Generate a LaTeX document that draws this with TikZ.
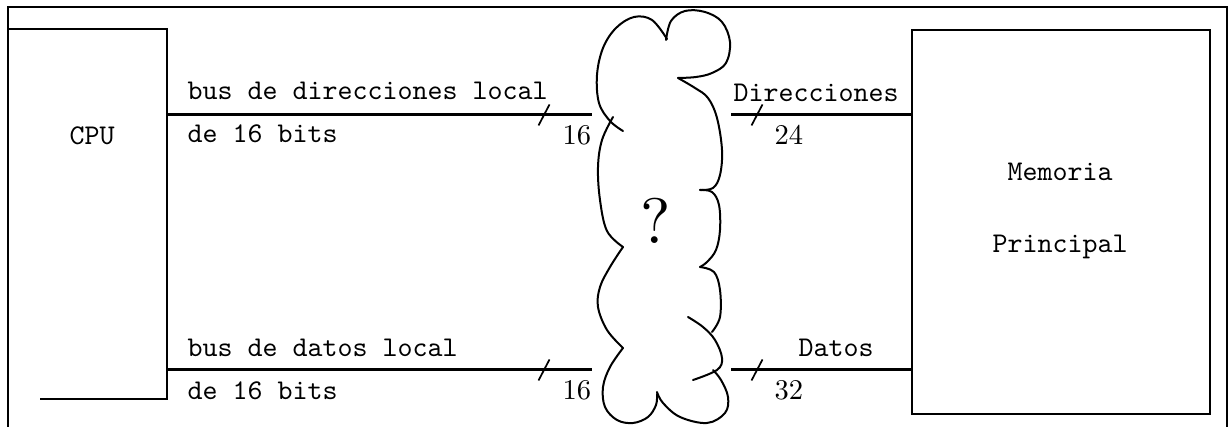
\documentclass[tikz,border=0pt]{standalone}
\begin{document}
\begin{tikzpicture}[x=0.35pt,y=-0.35pt,
  frameline/.style={line width=0.45pt},
  boxline/.style={line width=0.6pt},
  bus/.style={line width=1.2pt},
  busmark/.style={line width=0.6pt},
  cloudline/.style={line width=0.7pt, line cap=round, line join=round},
  ttlabel/.style={font=\ttfamily, inner sep=0pt, anchor=base west},
  width/.style={font=\rmfamily, inner sep=0pt, anchor=base west}]
\useasboundingbox (0,0) rectangle (1230,427);

% outer frame (open at the bottom)
\draw[frameline] (8,440) -- (8,7) -- (1227,7) -- (1227,440);

% CPU block
\coordinate (cpuTL) at (8,29);
\coordinate (cpuTR) at (167,29);
\coordinate (cpuBR) at (167,399);
\coordinate (cpuBL) at (40,399);
\draw[boxline] (cpuTL) -- (cpuTR) -- (cpuBR) -- (cpuBL);
\node[font=\ttfamily] (cpu) at (92,136) {CPU};

% main memory block
\node[draw, boxline, minimum width=298*0.35pt, minimum height=384*0.35pt,
      inner sep=0pt, anchor=north west] (mem) at (911,29) {};
\node[font=\ttfamily, align=center] (memtxt) at (1060,211)
  {Memoria\\[13pt]Principal};

% bus end points
\coordinate (addrL) at (167,114.5);
\coordinate (addrM) at (592,114.5);
\coordinate (addrN) at (731,114.5);
\coordinate (addrR) at (mem.west |- addrL);
\coordinate (dataL) at (167,369.5);
\coordinate (dataM) at (592,369.5);
\coordinate (dataN) at (731,369.5);
\coordinate (dataR) at (mem.west |- dataL);

\draw[bus] (addrL) -- (addrM);
\draw[bus] (addrN) -- (addrR);
\draw[bus] (dataL) -- (dataM);
\draw[bus] (dataN) -- (dataR);

% bus width marks
\coordinate (m1) at (544,115);
\coordinate (m2) at (757,115);
\coordinate (m3) at (544,370);
\coordinate (m4) at (757,370);
\foreach \m in {m1,m2,m3,m4}
  \draw[busmark] (\m) ++(-5.5,10.5) -- ++(11,-21);

% labels
\node[ttlabel] (l1) at (187,100) {bus de direcciones local};
\node[ttlabel] (l2) at (187,143) {de 16 bits};
\node[ttlabel] (l3) at (187,357) {bus de datos local};
\node[ttlabel] (l4) at (187,400) {de 16 bits};
\node[ttlabel] (l5) at (733,101.5) {Direcciones};
\node[ttlabel] (l6) at (798,357) {Datos};
\node[width] (w1) at (562,145) {16};
\node[width] (w2) at (774,145) {24};
\node[width] (w3) at (562,400) {16};
\node[width] (w4) at (774,400) {32};

% the unknown interconnect
\begin{scope}[cloudline]
\draw plot[smooth, tension=0.6] coordinates {(623,131) (610,121) (599,103) (597,75) (603,48) (616,28) (634,17) (652,20) (667,39)};
\draw plot[smooth, tension=0.6] coordinates {(666,40) (671,21) (685,11) (705,12) (722,22) (730,42) (726,63) (712,73) (696,77) (678,78)};
\draw plot[smooth, tension=0.6] coordinates {(678,78) (695,88) (708,98) (717,118) (722,150) (720,175) (713,188) (700,190)};
\draw plot[smooth, tension=0.6] coordinates {(700,190) (712,192) (719,205) (720,230) (716,250) (707,262) (700,267)};
\draw plot[smooth, tension=0.6] coordinates {(700,267) (714,272) (720,290) (720,317) (712,332)};
\draw plot[smooth, tension=0.6] coordinates {(688,317) (703,327) (715,340) (722,358) (717,370) (693,380)};
\draw plot[smooth, tension=0.6] coordinates {(713,370) (721,380) (728,397) (725,413) (707,423) (680,417) (663,403) (657,392)};
\draw plot[smooth, tension=0.6] coordinates {(657,394) (656,405) (648,417) (633,423) (617,420) (605,407) (603,387) (610,367) (623,348)};
\draw plot[smooth, tension=0.6] coordinates {(623,348) (607,330) (598,307) (600,287) (610,267) (623,247)};
\draw plot[smooth, tension=0.6] coordinates {(623,247) (607,231) (600,200) (598,167) (602,140) (613,117)};
\end{scope}
\node[font=\rmfamily, scale=2.25, inner sep=0pt] (q) at (656,221) {?};
\end{tikzpicture}
\end{document}
